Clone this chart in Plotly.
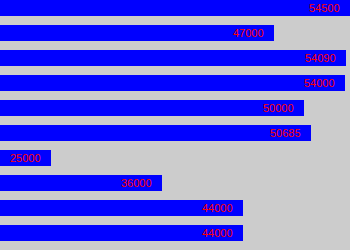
import plotly.graph_objects as go

categories = ["A", "B", "C", "D", "E", "F", "G", "H", "I", "J"]
values = [54500, 47000, 54090, 54000, 50000, 50685, 25000, 36000, 44000, 44000]
labels = [str(v) for v in values]

pos = list(range(len(values)))

fig = go.Figure()
fig.add_trace(go.Bar(
    x=values, y=pos, orientation="h",
    marker=dict(color="#0000ff", line=dict(width=0)),
    width=0.64, hoverinfo="skip",
))
for p, v, t in zip(pos, values, labels):
    fig.add_annotation(x=v, y=p, text=t, showarrow=False, xanchor="right",
                       xshift=-8, font=dict(family="Liberation Sans", size=11, color="#ff0000"))

fig.update_layout(
    width=350, height=250,
    margin=dict(l=0, r=0, t=0, b=0),
    paper_bgcolor="#cccccc", plot_bgcolor="#cccccc",
    showlegend=False,
    xaxis=dict(range=[20000, 54510], visible=False, showgrid=False, zeroline=False),
    yaxis=dict(range=[9.68, -0.32], visible=False, showgrid=False, zeroline=False),
    bargap=0,
)
fig.write_html("out.html")
